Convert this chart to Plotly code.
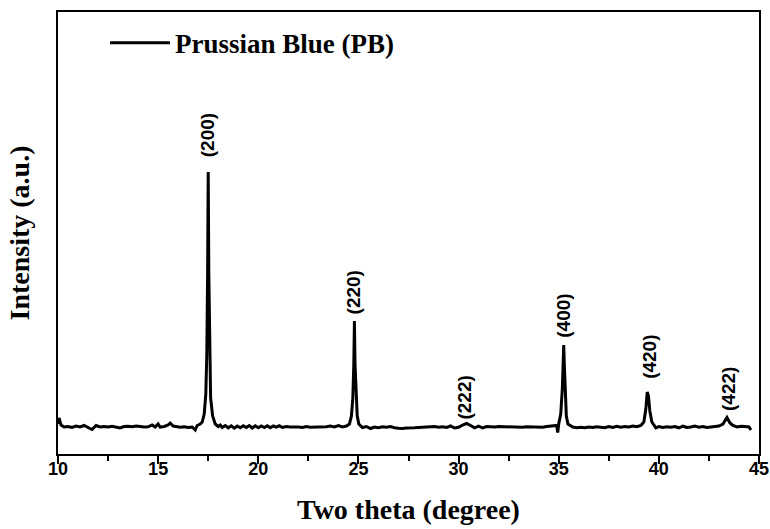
import plotly.graph_objects as go

two_theta = [
    10.0, 10.05, 10.15, 10.3, 10.5, 10.7, 10.9, 11.1, 11.3, 11.5, 11.7, 11.9,
    12.1, 12.3, 12.5, 12.7, 12.9, 13.1, 13.3, 13.5, 13.7, 13.9, 14.1, 14.3,
    14.5, 14.7, 14.85, 15.0, 15.1, 15.3, 15.5, 15.6, 15.75, 15.9, 16.1, 16.3,
    16.5, 16.7, 16.85, 16.95, 17.1, 17.2, 17.3, 17.38, 17.43, 17.47, 17.5,
    17.53, 17.57, 17.62, 17.72, 17.85, 18.0, 18.1,
    18.2, 18.35, 18.5, 18.65, 18.8, 18.95, 19.1, 19.25, 19.4, 19.55, 19.7,
    19.85, 20.0, 20.15, 20.3, 20.45, 20.6, 20.75, 20.9, 21.05, 21.2, 21.4,
    21.6, 21.8, 22.0, 22.2, 22.4, 22.6, 22.8, 23.0, 23.2, 23.4, 23.6, 23.8,
    24.0, 24.2, 24.4, 24.55, 24.65, 24.72, 24.77, 24.8, 24.83, 24.88, 24.94,
    25.02, 25.1,
    25.2, 25.4, 25.6, 25.8, 26.0, 26.2, 26.4, 26.6, 26.8, 27.0, 27.2, 27.4,
    27.6, 27.8, 28.0, 28.2, 28.4, 28.6, 28.8, 29.0, 29.2, 29.4, 29.6, 29.8,
    30.0, 30.2, 30.4, 30.6, 30.8, 31.0, 31.2, 31.4, 31.6, 31.8, 32.0, 32.2,
    32.4, 32.6, 32.8, 33.0, 33.2, 33.4, 33.6, 33.8, 34.0, 34.2, 34.4, 34.6,
    34.8, 34.9, 34.95, 35.0, 35.1, 35.18, 35.22, 35.25, 35.28, 35.32, 35.38,
    35.46, 35.56,
    35.7, 35.9, 36.1, 36.3, 36.5, 36.7, 36.9, 37.1, 37.3, 37.5, 37.7, 37.9,
    38.1, 38.3, 38.5, 38.7, 38.9, 39.1, 39.25, 39.35, 39.42, 39.48, 39.55,
    39.65, 39.75, 39.85,
    40.0, 40.2, 40.4, 40.6, 40.8, 41.0, 41.2, 41.4, 41.6, 41.8, 42.0, 42.2,
    42.4, 42.6, 42.8, 43.0, 43.2, 43.4, 43.55, 43.7, 43.9, 44.1, 44.3, 44.5,
    44.6,
]
intensity = [
    300, 360, 290, 270, 275, 265, 280, 270, 285, 265, 245, 285,
    270, 275, 270, 278, 272, 260, 275, 278, 272, 280, 276, 270,
    272, 290, 270, 300, 268, 275, 290, 310, 280, 272, 268, 272,
    266, 270, 240, 285, 300, 320, 400, 600, 1000, 1800, 2820,
    1800, 1000, 560, 380, 300, 275, 290,
    265, 285, 262, 282, 258, 280, 262, 283, 265, 285, 260,
    282, 262, 280, 265, 283, 262, 280, 268, 282, 265, 275,
    270, 272, 270, 265, 275, 268, 270, 272, 268, 272, 280, 270,
    285, 270, 280, 300, 380, 560, 900, 1330, 900, 560, 380,
    300, 280,
    265, 275, 255, 270, 262, 272, 268, 275, 262, 258, 255, 260,
    258, 262, 265, 268, 272, 270, 275, 268, 272, 265, 280, 260,
    268, 290, 305, 285, 262, 278, 260, 275, 272, 270, 274, 272,
    270, 275, 272, 270, 268, 272, 270, 275, 272, 268, 275, 278,
    282, 285, 215, 300, 400, 650, 900, 1090, 900, 600, 380,
    300, 285,
    270, 262, 268, 262, 270, 265, 272, 268, 262, 275, 265, 278,
    268, 275, 270, 280, 272, 285, 320, 450, 620, 580, 430,
    320, 285, 262,
    275, 265, 272, 268, 275, 262, 278, 265, 270, 280, 268, 275,
    265, 272, 275, 280, 300, 365, 310, 285, 270, 278, 275, 270,
    240,
]

# Peak labels (Miller indices)
peak_labels = ["(200)", "(220)", "(222)", "(400)", "(420)", "(422)"]
label_x = [17.45, 24.75, 30.25, 35.2, 39.5, 43.45]
label_y = [3190, 1620, 560, 1380, 970, 650]

fig = go.Figure()
fig.add_trace(go.Scatter(
    x=two_theta, y=intensity, mode="lines",
    name="Prussian Blue (PB)",
    line=dict(color="black", width=3),
))

for t, lx, ly in zip(peak_labels, label_x, label_y):
    fig.add_annotation(
        x=lx, y=ly, text=t, textangle=-90, showarrow=False,
        font=dict(family="Liberation Sans", size=19, color="black", weight="bold"),
    )

fig.update_layout(
    width=770, height=529,
    margin=dict(l=58, r=11, t=12, b=75, autoexpand=False),
    paper_bgcolor="white", plot_bgcolor="white",
    showlegend=True,
    legend=dict(
        x=(105 - 58) / 701, y=0.985, xanchor="left", yanchor="top",
        itemwidth=60,
        bgcolor="rgba(0,0,0,0)",
        font=dict(family="Liberation Serif", size=27, color="black", weight="bold"),
    ),
    font=dict(family="Liberation Sans", color="black"),
)
fig.update_xaxes(
    range=[10, 45], dtick=5, tick0=10, automargin=False,
    showline=True, mirror=True, linecolor="black", linewidth=2,
    ticks="outside", ticklen=8, tickwidth=2, tickcolor="black",
    minor=dict(dtick=2.5, ticklen=5, tickwidth=2, tickcolor="black", ticks="outside"),
    showgrid=False, zeroline=False,
    ticklabelstandoff=-11,
    tickfont=dict(family="Liberation Sans", size=18, color="black", weight="bold"),
    title=dict(text="<b>Two theta (degree)</b>", standoff=22,
               font=dict(family="Liberation Serif", size=28, color="black")),
)
fig.update_yaxes(
    range=[0, 4420], automargin=False,
    showline=True, mirror=True, linecolor="black", linewidth=2,
    ticks="", showticklabels=False, showgrid=False, zeroline=False,
    title=dict(text="<b>Intensity (a.u.)</b>", standoff=18,
               font=dict(family="Liberation Serif", size=28, color="black")),
)

fig.write_html("out.html", config={"displayModeBar": False},
               post_script="document.body.style.margin='0px';")
